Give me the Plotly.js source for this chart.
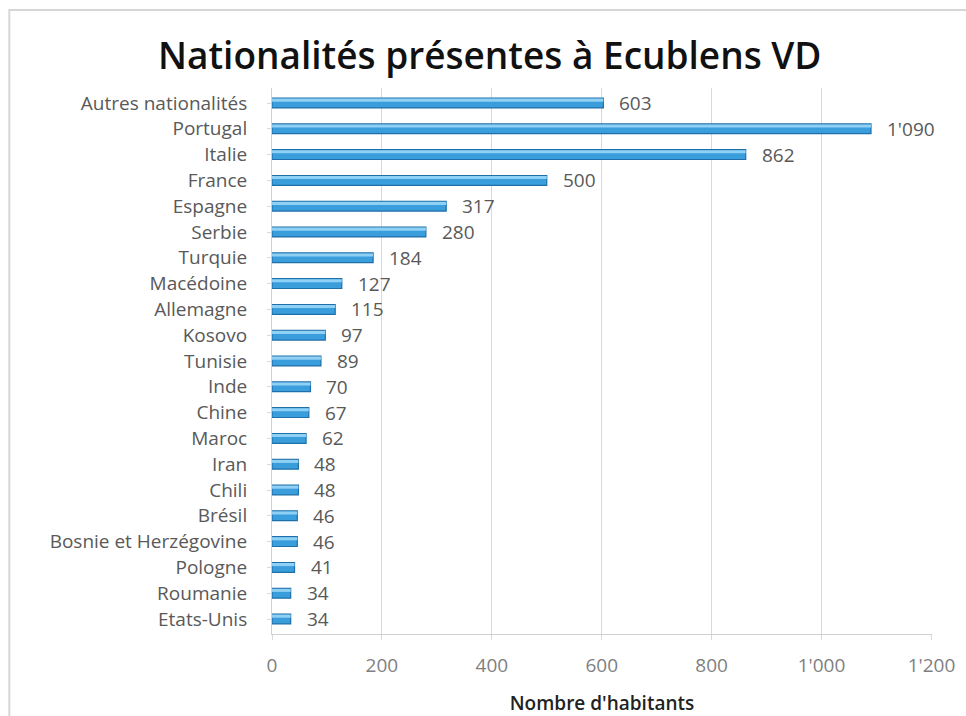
<!DOCTYPE html>
<html>
<head>
<meta charset="utf-8">
<script src="https://cdn.plot.ly/plotly-3.0.1.min.js"></script>
<style>
html,body{margin:0;padding:0;background:#fff;}
#chart{width:966px;height:716px;}
</style>
</head>
<body>
<div id="chart"></div>
<script>
const categories = ["Autres nationalités","Portugal","Italie","France","Espagne","Serbie","Turquie","Macédoine","Allemagne","Kosovo","Tunisie","Inde","Chine","Maroc","Iran","Chili","Brésil","Bosnie et Herzégovine","Pologne","Roumanie","Etats-Unis"];
const values = [603,1090,862,500,317,280,184,127,115,97,89,70,67,62,48,48,46,46,41,34,34];
const xTickVals = [0,200,400,600,800,1000,1200];
const xTickText = ["0","200","400","600","800","1'000","1'200"];

function fmt(v){ return String(v).replace(/\B(?=(\d{3})+(?!\d))/g, "'"); }

const trace = {
  type: 'bar',
  orientation: 'h',
  x: values,
  y: categories,
  width: 0.38,
  marker: {
    color: '#3a9ddc',
    line: {color: '#1f6fa8', width: 1.2}
  },
  hoverinfo: 'x+y'
};
const highlight = {
  type: 'bar',
  orientation: 'h',
  x: values,
  y: categories,
  width: 0.12,
  offset: -0.17,
  marker: {color: '#8fd0f5', line: {width: 0}},
  hoverinfo: 'skip'
};

const annotations = values.map((v, i) => ({
  x: v, y: categories[i], xref: 'x', yref: 'y',
  text: fmt(v), showarrow: false, xanchor: 'left', xshift: 14,
  font: {family: 'Open Sans', size: 19, color: '#595959'}
}));

const layout = {
  width: 966, height: 716,
  margin: {l: 272, r: 34, t: 88, b: 82},
  paper_bgcolor: '#ffffff',
  plot_bgcolor: '#ffffff',
  showlegend: false,
  barmode: 'overlay',
  title: {
    text: 'Nationalités présentes à Ecublens VD',
    x: 0.507, xanchor: 'center', y: 0.922, yanchor: 'middle',
    font: {family: 'Open Sans', size: 37, weight: 600, color: '#111111'}
  },
  xaxis: {
    range: [0, 1201],
    tickvals: xTickVals,
    ticktext: xTickText,
    showgrid: true,
    gridcolor: '#d9d9d9',
    gridwidth: 1,
    zeroline: false,
    showline: true,
    linecolor: '#d0d0d0',
    ticks: 'outside', ticklen: 5, tickcolor: '#d9d9d9',
    ticklabelstandoff: 9,
    tickfont: {family: 'Open Sans', size: 19, color: '#7f7f7f'},
    title: {text: "Nombre d'habitants", standoff: 20,
            font: {family: 'Open Sans', size: 19, weight: 600, color: '#222222'}},
    fixedrange: true
  },
  yaxis: {
    autorange: 'reversed',
    showgrid: false,
    showline: true,
    linecolor: '#d0d0d0',
    ticks: 'outside', ticklen: 4, tickcolor: '#d9d9d9',
    ticklabelstandoff: 16,
    tickfont: {family: 'Open Sans', size: 19, color: '#595959'},
    fixedrange: true
  },
  annotations: annotations,
  shapes: [{
    type: 'rect', xref: 'paper', yref: 'paper',
    x0: -0.398, x1: 1.12, y0: -0.3, y1: 1.143,
    line: {color: '#d6d6d6', width: 2}, fillcolor: 'rgba(0,0,0,0)', layer: 'below'
  }]
};

Plotly.newPlot('chart', [trace, highlight], layout, {displayModeBar: false, staticPlot: true});
</script>
</body>
</html>
